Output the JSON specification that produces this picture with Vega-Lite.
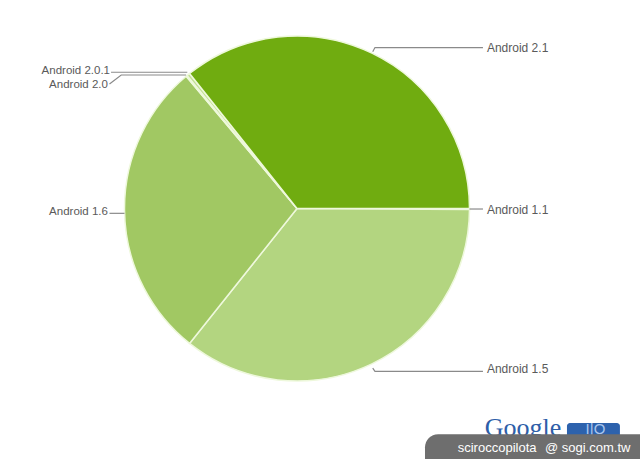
{
  "$schema": "https://vega.github.io/schema/vega-lite/v6.json",
  "width": 594,
  "height": 417,
  "autosize": {"type": "none"},
  "padding": {"left": 0, "top": 0, "right": 46, "bottom": 42},
  "background": "white",
  "config": {"view": {"stroke": null}},
  "datasets": {
    "slices": [
      {"version": "Android 1.1", "share": 0.1},
      {"version": "Android 1.5", "share": 35.6},
      {"version": "Android 1.6", "share": 28.2},
      {"version": "Android 2.0", "share": 0.1},
      {"version": "Android 2.0.1", "share": 0.3},
      {"version": "Android 2.1", "share": 35.7}
    ],
    "leaders": [
      {"label": "Android 2.1", "ord": 1, "x": 0.439, "y": 0.909},
      {"label": "Android 2.1", "ord": 2, "x": 0.452, "y": 0.933},
      {"label": "Android 2.1", "ord": 3, "x": 1.078, "y": 0.933},
      {"label": "Android 1.1", "ord": 1, "x": 1.0, "y": -0.003},
      {"label": "Android 1.1", "ord": 2, "x": 1.078, "y": -0.003},
      {"label": "Android 1.5", "ord": 1, "x": 0.439, "y": -0.925},
      {"label": "Android 1.5", "ord": 2, "x": 0.452, "y": -0.944},
      {"label": "Android 1.5", "ord": 3, "x": 1.078, "y": -0.944},
      {"label": "Android 1.6", "ord": 1, "x": -1.0, "y": -0.028},
      {"label": "Android 1.6", "ord": 2, "x": -1.087, "y": -0.028},
      {"label": "Android 2.0.1", "ord": 1, "x": -0.636, "y": 0.790},
      {"label": "Android 2.0.1", "ord": 2, "x": -1.078, "y": 0.790},
      {"label": "Android 2.0", "ord": 1, "x": -0.643, "y": 0.774},
      {"label": "Android 2.0", "ord": 2, "x": -1.019, "y": 0.774},
      {"label": "Android 2.0", "ord": 3, "x": -1.087, "y": 0.722}
    ],
    "labels": [
      {"label": "Android 2.1", "x": 1.101, "y": 0.930},
      {"label": "Android 1.1", "x": 1.101, "y": -0.009},
      {"label": "Android 1.5", "x": 1.101, "y": -0.930},
      {"label": "Android 1.6", "x": -1.096, "y": -0.020},
      {"label": "Android 2.0.1", "x": -1.084, "y": 0.797},
      {"label": "Android 2.0", "x": -1.096, "y": 0.716}
    ],
    "badge": [
      {"part": "box", "x": 0.742, "x2": 1.99, "y": -1.308, "y2": -1.46}
    ],
    "logo": [
      {"part": "io", "x": 1.565, "x2": 1.872, "y": -1.244, "y2": -1.36}
    ],
    "marks": [
      {"text": "Google", "x": 1.310, "y": -1.319, "kind": "logo"},
      {"text": "sciroccopilota", "x": 1.160, "y": -1.389, "kind": "wm"},
      {"text": "@ sogi.com.tw", "x": 1.685, "y": -1.389, "kind": "wm"},
      {"text": "I|O", "x": 1.730, "y": -1.280, "kind": "io"}
    ]
  },
  "layer": [
    {
      "data": {"name": "slices"},
      "mark": {"type": "arc", "outerRadius": 172.5, "stroke": "#eef8dc", "strokeWidth": 1.5},
      "encoding": {
        "theta": {"field": "share", "type": "quantitative", "stack": true,
                  "scale": {"range": [1.5708, 7.854]}},
        "color": {"field": "version", "type": "nominal", "legend": null,
                  "sort": ["Android 1.1", "Android 1.5", "Android 1.6", "Android 2.0", "Android 2.0.1", "Android 2.1"],
                  "scale": {"domain": ["Android 1.1", "Android 1.5", "Android 1.6", "Android 2.0", "Android 2.0.1", "Android 2.1"],
                            "range": ["#b3d580", "#b3d580", "#a1c863", "#d4e9b0", "#c3e096", "#70ac10"]}},
        "order": {"field": "version", "sort": "ascending"}
      }
    },
    {
      "data": {"name": "leaders"},
      "mark": {"type": "line", "color": "#8a8a8a", "strokeWidth": 1.2},
      "encoding": {
        "x": {"field": "x", "type": "quantitative", "axis": null,
              "scale": {"domain": [-1.7217, 1.7217], "zero": false, "nice": false}},
        "y": {"field": "y", "type": "quantitative", "axis": null,
              "scale": {"domain": [-1.2087, 1.2087], "zero": false, "nice": false}},
        "detail": {"field": "label"},
        "order": {"field": "ord", "type": "quantitative"}
      }
    },
    {
      "data": {"name": "labels"},
      "transform": [{"filter": "datum.x > 0"}],
      "mark": {"type": "text", "align": "left", "baseline": "middle", "font": "Liberation Sans", "fontSize": 12, "color": "#5a5a5a"},
      "encoding": {
        "x": {"field": "x", "type": "quantitative"},
        "y": {"field": "y", "type": "quantitative"},
        "text": {"field": "label"}
      }
    },
    {
      "data": {"name": "labels"},
      "transform": [{"filter": "datum.x < 0"}],
      "mark": {"type": "text", "align": "right", "baseline": "middle", "font": "Liberation Sans", "fontSize": 11.5, "color": "#5a5a5a"},
      "encoding": {
        "x": {"field": "x", "type": "quantitative"},
        "y": {"field": "y", "type": "quantitative"},
        "text": {"field": "label"}
      }
    },
    {
      "data": {"name": "logo"},
      "mark": {"type": "rect", "color": "#2d62ad", "cornerRadius": 3},
      "encoding": {
        "x": {"field": "x", "type": "quantitative"},
        "x2": {"field": "x2"},
        "y": {"field": "y", "type": "quantitative"},
        "y2": {"field": "y2"}
      }
    },
    {
      "data": {"name": "marks"},
      "transform": [{"filter": "datum.kind == 'logo'"}],
      "mark": {"type": "text", "align": "center", "baseline": "alphabetic", "font": "Liberation Serif", "fontSize": 26, "color": "#2d5ea8"},
      "encoding": {
        "x": {"field": "x", "type": "quantitative"},
        "y": {"field": "y", "type": "quantitative"},
        "text": {"field": "text"}
      }
    },
    {
      "data": {"name": "marks"},
      "transform": [{"filter": "datum.kind == 'io'"}],
      "mark": {"type": "text", "align": "center", "baseline": "middle", "font": "Liberation Sans", "fontSize": 15, "color": "#a9c6ee"},
      "encoding": {
        "x": {"field": "x", "type": "quantitative"},
        "y": {"field": "y", "type": "quantitative"},
        "text": {"field": "text"}
      }
    },
    {
      "data": {"name": "badge"},
      "mark": {"type": "rect", "color": "#6e6e6e", "cornerRadiusTopLeft": 18},
      "encoding": {
        "x": {"field": "x", "type": "quantitative"},
        "x2": {"field": "x2"},
        "y": {"field": "y", "type": "quantitative"},
        "y2": {"field": "y2"}
      }
    },
    {
      "data": {"name": "marks"},
      "transform": [{"filter": "datum.kind == 'wm'"}],
      "mark": {"type": "text", "align": "center", "baseline": "middle", "font": "Liberation Sans", "fontSize": 13, "color": "#ffffff"},
      "encoding": {
        "x": {"field": "x", "type": "quantitative"},
        "y": {"field": "y", "type": "quantitative"},
        "text": {"field": "text"}
      }
    }
  ]
}
